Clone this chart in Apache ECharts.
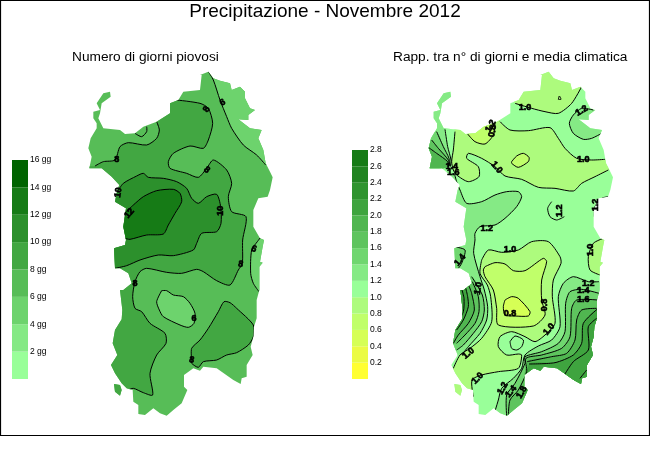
<!DOCTYPE html>
<html><head><meta charset="utf-8">
<style>html,body{margin:0;padding:0;background:#fff}#c{width:650px;height:450px}</style>
<script src="https://cdn.jsdelivr.net/npm/echarts@6/dist/echarts.min.js"></script></head>
<body><div id="c"></div>
<script>
// ---- Legends
const daysClasses = ['#99FF99','#85E985','#6DD36D','#57BD57','#42A742','#2C902C','#167B16','#006400'];
const daysStep = 2;
const ratioClasses = ['#FFFF33','#EBFB44','#D6FF55','#C0FF6A','#ADFB7D','#99FF99','#85EA85','#6FD66F','#5EC45E','#50B650','#3FA43F','#2F942F','#218421','#167B16'];
const ratioStep = 0.2;

// ---- Map outline (map units)
const coast = [[600,45],[625,35],[640,55],[660,62],[690,70],[695,90],[720,80],[735,95],[735,115],[750,145],[765,150],[745,165],[745,180],[715,178],[750,205],[785,210],[775,235],[790,270],[797,310],[810,335],[818,352],[810,390],[803,410],[775,415],[760,450],[760,500],[780,535],[792,540],[788,560],[780,605],[788,608],[778,620],[778,690],[770,720],[770,775],[762,800],[760,830],[752,860],[758,885],[740,915],[740,950],[725,955],[722,972],[700,960],[650,925],[610,920],[600,932],[580,925],[552,945],[552,980],[562,990],[545,1030],[520,1050],[500,1067],[480,1060],[460,1045],[435,1065],[415,1062],[415,1035],[400,1025],[398,990],[380,985],[365,970],[345,940],[333,915],[352,885],[338,850],[345,810],[365,778],[367,750],[360,690],[370,690],[395,670],[385,640],[360,625],[345,625],[342,565],[375,555],[378,540],[370,500],[378,445],[345,425],[352,390],[358,375],[335,350],[305,325],[268,325],[275,290],[265,265],[272,235],[290,205],[290,190],[280,175],[280,155],[300,150],[290,130],[310,100],[330,95],[332,110],[305,130],[300,160],[295,175],[310,205],[360,210],[375,222],[405,220],[430,200],[470,185],[510,160],[510,130],[535,120],[550,95],[600,90],[605,45]];
const antioco = [[342,972],[360,975],[365,990],[360,1007],[345,995]];
const rightPanelShift = 46;

// ---- Left map: rainy days contours
const d6NE = [[625,35],[640,60],[660,120],[680,170],[695,205],[730,255],[770,285],[797,315]];
const d6E = [[782,532],[772,545],[755,570],[752,640],[760,670],[777,695]];
const d6C = [[485,692],[500,692],[520,705],[550,710],[570,730],[585,760],[582,790],[565,802],[540,795],[490,770],[478,750],[470,725],[485,692]];
const d8Main = [[530,120],[600,130],[625,145],[638,190],[625,240],[610,265],[570,258],[520,280],[505,305],[510,325],[560,340],[595,352],[620,325],[640,300],[680,330],[695,370],[685,410],[695,455],[738,470],[728,540],[727,610],[715,630],[690,675],[650,662],[610,635],[590,628],[545,640],[500,637],[440,625],[420,635],[405,665],[398,710],[405,745],[425,755],[450,790],[495,820],[498,850],[470,885],[450,940],[458,1005],[430,998],[400,985],[385,990]];
const d8NW = [[285,318],[310,305],[345,300],[360,260],[385,248],[440,255],[470,235],[478,210],[470,185]];
const d8Arc = [[405,220],[425,230],[440,215],[440,200]];
const d8SE = [[575,900],[575,865],[600,840],[625,805],[655,755],[672,725],[690,728],[710,745],[760,795],[760,830],[745,855],[710,878],[680,885],[650,900],[610,905],[595,922],[575,910],[575,900]];
const d10 = [[352,395],[370,370],[410,348],[430,340],[445,352],[490,355],[530,365],[560,385],[575,415],[595,430],[620,410],[650,403],[662,440],[663,490],[650,515],[605,520],[590,550],[580,570],[520,587],[475,585],[420,600],[380,617],[345,625]];
const d12 = [[378,455],[400,435],[430,410],[470,392],[520,388],[540,400],[545,425],[525,460],[505,495],[490,522],[440,525],[390,538],[375,535]];
const dayLabels = [['8',620,148,-60],['6',668,128,-30],['8',350,298,0],['8',620,330,40],['10',355,398,-80],['12',388,460,-50],['10',662,452,-90],['6',762,567,20],['8',722,613,10],['8',405,670,0],['6',582,775,0],['8',575,900,10]];

// ---- Right map: ratio contours
const rN = [[570,130],[620,145],[660,155],[700,160],[740,130],[770,80]];
const rPatchN = [[428,222],[450,245],[480,252],[505,225],[510,190]];
const rBandA = [[525,185],[555,210],[610,212],[675,203],[700,235],[720,265],[755,295],[800,300],[840,298]];
const rBandB = [[850,330],[810,350],[770,370],[745,393],[690,385],[640,382],[590,358],[540,348],[510,320],[470,295],[430,280],[425,295],[460,320],[462,350],[430,365],[395,345],[385,330],[380,305],[385,270],[390,215]];
const rPatchC = [[560,305],[575,288],[595,280],[612,292],[610,305],[580,322],[560,310],[560,305]];
const rFan12 = [[360,208],[368,260],[378,300],[376,320]];
const rFan14 = [[335,215],[355,260],[372,295],[374,318]];
const rFan16 = [[320,240],[340,265],[370,300],[372,318]];
const rFan18 = [[310,262],[335,280],[368,305],[370,320]];
const rW12 = [[388,340],[395,365],[405,390],[425,430],[470,425],[510,405],[545,395],[580,395],[590,410],[575,440],[540,475],[510,495],[465,500],[450,520],[450,540],[446,580],[465,650],[478,690],[488,740],[485,780],[465,820],[430,860],[410,885]];
const rW14 = [[440,650],[472,705],[478,750],[470,785],[445,820],[415,855],[395,870]];
const rPatchW = [[385,560],[420,570],[410,610],[400,625]];
const rW16 = [[442,665],[460,710],[462,755],[450,790],[420,825],[395,850]];
const rW18 = [[432,678],[440,700],[448,750],[430,790],[400,825],[385,850]];
const rW20 = [[422,684],[428,710],[430,740],[415,780],[395,810]];
const rW22 = [[411,690],[417,715],[415,755],[395,795]];
const rCenterE = [[470,600],[490,570],[530,577],[580,570],[620,545],[670,545],[705,590],[708,610],[685,660],[682,710],[690,790],[660,825],[630,845],[600,830],[560,815],[525,830],[520,860],[545,885],[580,882],[590,885],[580,925],[520,935],[470,945],[441,960],[445,1010]];
const rCenterW = [[385,925],[405,885],[435,865],[470,835],[500,785],[497,710],[487,675],[465,640],[470,600]];
const rInner08 = [[480,620],[510,608],[540,612],[565,632],[600,632],[655,595],[665,605],[650,660],[650,720],[660,765],[625,798],[520,795],[515,745],[505,690],[480,650],[475,630],[480,620]];
const rInner06 = [[540,720],[560,710],[580,715],[615,755],[610,768],[570,768],[540,765],[535,740],[540,720]];
const rRingS = [[555,845],[570,828],[595,840],[590,860],[575,870],[560,865],[555,845]];
const rRingN = [[680,425],[668,445],[675,470],[695,480],[718,470]];
const rEastLine = [[850,410],[830,415],[810,440],[808,470]];
const rTiny = [[700,118],[703,108],[708,118],[700,118]];
const rEast10 = [[835,535],[805,550],[790,590],[795,630],[825,645]];
const rNE12 = [[805,150],[770,145],[745,165],[733,190],[745,220],[775,238],[800,235],[830,220]];
const rSE12 = [[505,1070],[520,1020],[530,985],[565,955],[590,925],[600,885],[640,858],[680,840],[705,800],[700,710],[715,670],[745,650],[790,665],[822,665]];
const rSE14 = [[545,1068],[545,1005],[570,970],[600,910],[600,890],[650,875],[700,850],[720,815],[722,730],[735,695],[770,688],[822,700]];
const rSE16 = [[550,1066],[555,1020],[580,990],[605,935],[603,895],[650,885],[710,865],[735,830],[740,745],[755,720],[818,720]];
const rSE18 = [[606,905],[680,890],[725,880],[750,840],[755,780],[770,750],[815,745]];
const rSE20 = [[612,912],[690,908],[745,885],[770,850],[775,790],[816,748]];
const rSE22 = [[712,955],[745,905],[790,870],[790,800],[815,775]];
const rSETail = [[765,955],[785,930]];
const ratioLabels = [['1.0',600,142,0],['1.2',770,152,-30],['1.2',497,198,-60],['0.8',503,213,-80],['1.0',775,300,0],['1.0',515,322,50],['1.4',380,320,0],['1.6',385,337,0],['1.2',812,435,-90],['1.2',703,452,-90],['1.2',485,505,0],['1.0',555,570,0],['1.0',797,570,-90],['1.4',405,600,-50],['1.0',460,685,-80],['1.2',790,670,0],['1.4',775,693,0],['1.6',775,718,0],['0.8',660,735,-90],['0.8',555,762,0],['1.0',672,808,-50],['1.0',430,880,-40],['1.0',458,955,-45],['1.2',533,985,-60],['1.4',558,995,-50],['1.8',590,997,-60]];

// ---- Layers, painted in order
const D = daysClasses, R = ratioClasses;
const fill = (color, pts) => ({color, pts});
const dayFills = [
  fill(D[3], coast), fill(D[3], antioco),
  fill(D[2], d6NE.concat([[900,315],[900,0],[625,0]])),
  fill(D[2], d6E.concat([[900,695],[900,532]])),
  fill(D[2], d6C),
  fill(D[4], d8Main.concat([[370,1020],[300,1030],[230,1000],[230,400],[250,320]], d8NW, [[500,140],[525,110]])),
  fill(D[4], d8SE),
  fill(D[5], d10.concat([[300,625],[300,395]])),
  fill(D[6], d12.concat([[340,535],[340,455]]))
];
const dayLines = [d6NE,d6E,d6C,d8Main,d8NW,d8Arc,d8SE,d10,d12];
const ratioFills = [
  fill(R[5], coast), fill(R[5], antioco),
  fill(R[4], rN.concat([[790,20],[560,20],[560,100]])),
  fill(R[4], rBandA.concat([[880,310]], rBandB, [[385,180],[525,170]])),
  fill(R[3], rPatchN.concat([[500,170],[430,195]])),
  fill(R[3], rPatchC),
  fill(R[6], rFan12.concat([[300,335],[200,335],[200,50],[400,50],[398,205]])),
  fill(R[7], rFan14.concat([[300,335],[200,335],[200,215]])),
  fill(R[8], rFan16.concat([[300,335],[200,335],[200,240]])),
  fill(R[9], rFan18.concat([[300,335],[200,335],[200,262]])),
  fill(R[6], rW12.concat([[300,885],[300,340]])),
  fill(R[7], rW14.concat([[300,870],[300,650]])),
  fill(R[7], rPatchW.concat([[350,625],[350,560]])),
  fill(R[8], rW16.concat([[300,850],[300,665]])),
  fill(R[9], rW18.concat([[300,850],[300,678]])),
  fill(R[10], rW20.concat([[300,810],[300,684]])),
  fill(R[10], rW22.concat([[300,795],[300,690]])),
  fill(R[4], rCenterE.concat([[430,1020],[370,1020],[340,940]], rCenterW)),
  fill(R[3], rInner08),
  fill(R[2], rInner06),
  fill(R[4], rEast10.concat([[900,645],[900,535]])),
  fill(R[6], rNE12.concat([[900,220],[900,150]])),
  fill(R[6], rSE12.concat([[900,665],[900,1100],[505,1100]])),
  fill(R[7], rSE14.concat([[900,700],[900,1100],[545,1100]])),
  fill(R[8], rSE16.concat([[900,720],[900,1100],[550,1100]])),
  fill(R[9], rSE18.concat([[900,745],[900,1100],[606,1100]])),
  fill(R[10], rSE20.concat([[900,748],[900,1100],[612,1100]])),
  fill(R[10], rSE22.concat([[900,775],[900,1100],[712,1100]]))
];
const ratioLines = [rN,rPatchN,rBandA,rBandB,rPatchC,rFan12,rFan14,rFan16,rFan18,rW12,rW14,rPatchW,rW16,rW18,rW20,rW22,rCenterE,rCenterW,rInner08,rInner06,rRingS,rRingN,rEastLine,rTiny,rEast10,rNE12,rSE12,rSE14,rSE16,rSE18,rSE20,rSE22,rSETail];

function mapSeries(idx, fills, lines, labels, shift){
  const layers = fills.concat(lines.map(pts => ({line:true, pts})), labels.map(l => ({label:l})));
  const rings = [coast, antioco].map(r => r.map(p => [p[0]+shift, p[1]]));
  return {
    type:'custom', coordinateSystem:'cartesian2d', xAxisIndex:idx, yAxisIndex:idx, silent:true, clip:false,
    data: layers.map((l,i) => [i,0]), encode:{x:0,y:1},
    renderItem(params, api){
      const L = layers[api.value(0)];
      if (L.label){
        const p = api.coord([L.label[1], L.label[2]]);
        return {type:'text', x:p[0], y:p[1], rotation:-L.label[3]*Math.PI/180,
          style:{text:L.label[0], font:'bold 9px "Liberation Sans"', fill:'#000', stroke:'#000', lineWidth:0.6, align:'center', verticalAlign:'middle'}};
      }
      if (L.pts === coast || L.pts === antioco){
        return {type:'polygon', shape:{points:L.pts.map(p => api.coord([p[0]+shift,p[1]]))}, style:{fill:L.color}};
      }
      const pts = L.pts.map(p => api.coord(p));
      const clips = rings.map(r => r.map(p => api.coord(p)));
      return {type:'group', children: clips.map(clip => ({
        type: L.line ? 'polyline' : 'polygon',
        shape:{points:pts, smooth:L.line ? 0.25 : 0.2},
        clipPath:{type:'polygon', shape:{points:clip}},
        style: L.line ? {stroke:'#000', lineWidth:1, fill:null} : {fill:L.color}
      }))};
    }
  };
}
function legendSeries(idx, classes, step){
  return classes.map(color => ({
    type:'bar', stack:'s'+idx, xAxisIndex:idx, yAxisIndex:idx, data:[step], barWidth:'100%',
    itemStyle:{color}, silent:true
  }));
}
const mapAxisX = gridIndex => ({type:'value', gridIndex, min:0, max:975, show:false});
const mapAxisY = gridIndex => ({type:'value', gridIndex, min:-180, max:1170, inverse:true, show:false});
const legendX = gridIndex => ({type:'category', gridIndex, data:['classi'], show:false});
const legendY = (gridIndex, max, interval, formatter) => ({
  type:'value', gridIndex, min:0, max, interval, position:'right', splitLine:{show:false},
  axisLine:{show:false}, axisTick:{show:false},
  axisLabel:{margin:2, color:'#000', fontSize:8.5, fontFamily:'Liberation Sans', showMinLabel:false, formatter}
});
const headStyle = size => ({fontFamily:'Liberation Sans', fontWeight:'normal', fontSize:size, color:'#000'});

echarts.init(document.getElementById('c'),null,{renderer:'canvas'}).setOption({
  animation:false, backgroundColor:'#fff',
  title:[
    {text:'Precipitazione - Novembre 2012', left:'center', top:2, padding:0, textStyle:headStyle(19)},
    {text:'Numero di giorni piovosi', left:72, top:50, padding:0, textStyle:headStyle(13.7)},
    {text:'Rapp. tra n° di giorni e media climatica', left:393, top:50, padding:0, textStyle:headStyle(13.7)}
  ],
  graphic:[{type:'rect', shape:{x:0.5,y:0.5,width:649,height:435}, style:{fill:null, stroke:'#000', lineWidth:1.2}, silent:true}],
  grid:[
    {left:0, top:0, width:325, height:450},
    {left:325, top:0, width:325, height:450},
    {left:12, top:160, width:16, height:219},
    {left:352, top:150, width:16, height:229}
  ],
  xAxis:[mapAxisX(0), mapAxisX(1), legendX(2), legendX(3)],
  yAxis:[mapAxisY(0), mapAxisY(1),
    legendY(2, daysClasses.length*daysStep, daysStep, v => v+' gg'),
    legendY(3, 2.8, ratioStep, v => v.toFixed(1))],
  series:[
    mapSeries(0, dayFills, dayLines, dayLabels, 0),
    mapSeries(1, ratioFills, ratioLines, ratioLabels, rightPanelShift),
    ...legendSeries(2, daysClasses, daysStep),
    ...legendSeries(3, ratioClasses, ratioStep)
  ]
});
</script></body></html>
